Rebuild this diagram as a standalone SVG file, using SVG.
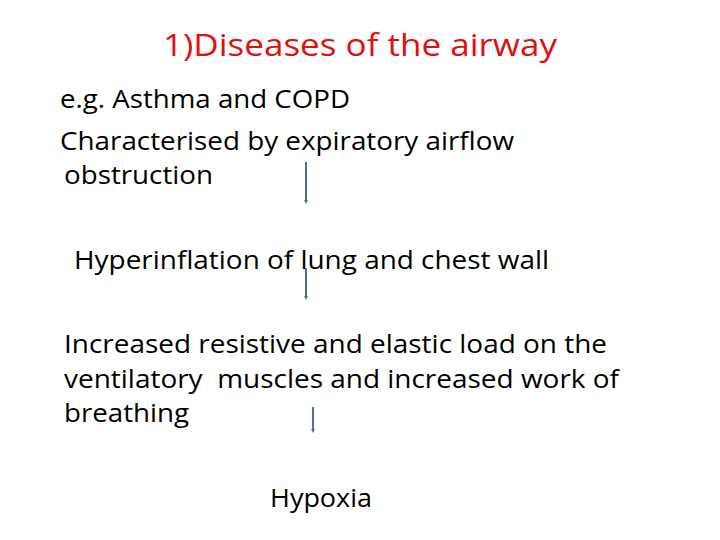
<svg xmlns="http://www.w3.org/2000/svg" width="720" height="540" viewBox="0 0 720 540">
<style>
.t{font-family:"Open Sans","Liberation Sans",sans-serif;font-size:25px;fill:#000}
.h{font-family:"Open Sans","Liberation Sans",sans-serif;font-size:31px;fill:#e01010}
.c{stroke:#4a6f9a;stroke-width:2;fill:none}
</style>
<defs><marker id="a" markerWidth="4" markerHeight="4" refX="2" refY="2" orient="auto" markerUnits="userSpaceOnUse"><path d="M0,0L4,2L0,4z" fill="#4a6f9a"/></marker></defs>
<rect width="720" height="540" fill="#fff"/>
<g id="title"><text class="h" x="163" y="56" textLength="394" lengthAdjust="spacingAndGlyphs">1)Diseases of the airway</text></g>
<g id="n1">
<text class="t" x="60" y="108" textLength="290" lengthAdjust="spacingAndGlyphs">e.g. Asthma and COPD</text>
<text class="t" x="60" y="150" textLength="454" lengthAdjust="spacingAndGlyphs">Characterised by expiratory airflow</text>
<text class="t" x="64" y="184" textLength="149" lengthAdjust="spacingAndGlyphs">obstruction</text>
</g>
<g id="n2"><text class="t" x="74" y="269" textLength="475" lengthAdjust="spacingAndGlyphs">Hyperinflation of lung and chest wall</text></g>
<g id="n3">
<text class="t" x="64" y="353" textLength="543" lengthAdjust="spacingAndGlyphs">Increased resistive and elastic load on the</text>
<text class="t" x="64" y="388" textLength="555" lengthAdjust="spacingAndGlyphs" xml:space="preserve">ventilatory  muscles and increased work of</text>
<text class="t" x="64" y="422" textLength="125" lengthAdjust="spacingAndGlyphs">breathing</text>
</g>
<g id="n4"><text class="t" x="270" y="507" textLength="102" lengthAdjust="spacingAndGlyphs">Hypoxia</text></g>
<g id="connectors">
<line class="c" x1="306" y1="162" x2="306" y2="202" marker-end="url(#a)"/>
<line class="c" x1="306" y1="268" x2="306" y2="298" marker-end="url(#a)"/>
<line class="c" x1="313" y1="407" x2="313" y2="431" marker-end="url(#a)"/>
</g>
</svg>
